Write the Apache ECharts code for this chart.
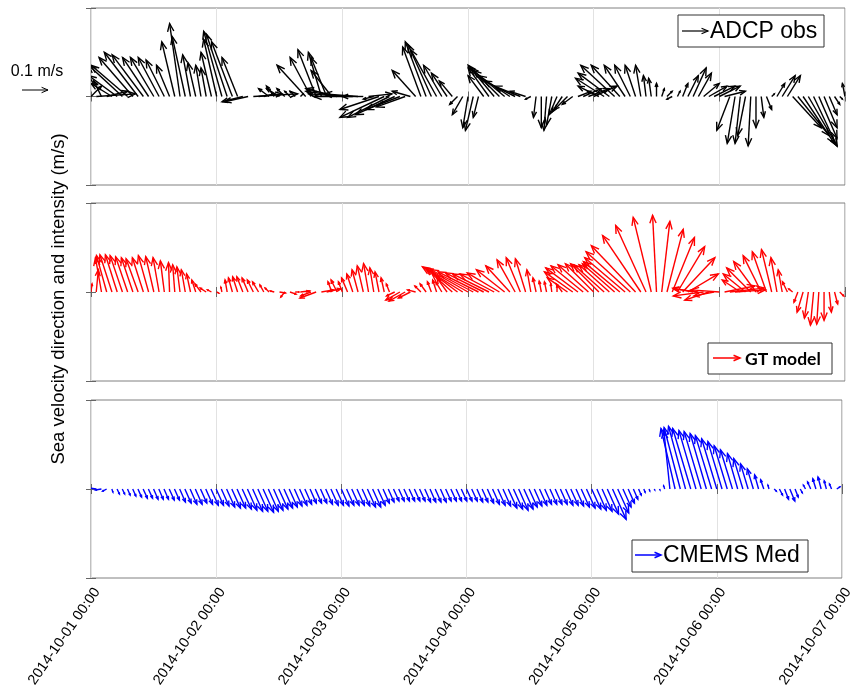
<!DOCTYPE html>
<html><head><meta charset="utf-8">
<script src="https://cdn.jsdelivr.net/npm/echarts@6.0.0/dist/echarts.min.js"></script>
<style>html,body{margin:0;padding:0;background:#fff}#c{width:856px;height:693px}</style>
</head><body><div id="c"></div>
<script>
// Hourly samples starting 2014-10-01 00:00 (index = hours since start)
const tickLabels = ['2014-10-01 00:00','2014-10-02 00:00','2014-10-03 00:00','2014-10-04 00:00','2014-10-05 00:00','2014-10-06 00:00','2014-10-07 00:00'];
const hoursPerTick = 24;
const totalHours = 144;

// Velocity components in cm/s (u: eastward, v: northward)
const adcpU = [4,15,-3,8,-8,-11,-13,-14,-13,-13,
 -12,-10,-9,-8,-7,-5,-5,-4,-5,-3,
 -3,-2,-2,-4,-5,-7,-8,-8,-6,-8,
 -9,17,9,4,-4,-3,-5,-3,-2,-2,
 1,-11,-8,-7,-5,-6,-8,-12,-14,-15,
 -15,-13,-8,9,-4,-15,-17,-16,-15,-13,
 -11,-7,-9,-7,-8,-9,-10,-7,-6,-5,
 -3,-4,-2,-3,-2,-6,-8,-10,-11,-12,
 -12,-12,-10,-6,-2,-1,0,-1,-2,-3,
 -4,-5,-4,5,7,8,9,-8,-11,-12,
 -13,-11,-8,-6,-4,-2,-1,-1,0,1,
 2,-2,1,2,4,5,5,6,7,8,
 8,8,-5,-3,-2,-3,-1,0,1,2,
 1,3,5,5,11,12,12,11,9,7,
 5,3,2,1,-1];
const adcpV = [4,1,6,2,5,8,12,12,15,17,
 16,15,15,15,14,12,21,28,23,16,
 13,12,11,17,22,25,24,21,15,-2,
 -2,1,1,1,3,4,3,3,2,2,
 1,12,15,18,17,15,10,3,2,1,
 0,1,0,1,-1,-5,-8,-8,-7,-5,
 -4,2,10,19,21,20,18,12,9,6,
 -3,-7,-12,-13,-8,8,11,12,11,10,
 8,6,4,2,-1,-8,-12,-13,-11,-7,
 -6,-5,-3,2,3,3,4,4,7,9,
 12,12,12,12,12,12,8,7,5,3,
 2,-1,2,5,8,11,9,5,4,4,
 4,2,-13,-18,-18,-15,-19,-12,-8,-5,
 1,5,8,8,-12,-15,-18,-19,-19,-16,
 -12,-7,-3,-1,5];

const gtU = [0.4,0.8,-2.3,-3.9,-4.6,-4.5,-4.7,-4.6,-4.4,-4.6,
 -4.2,-3.9,-3.1,-2.3,-1.5,-0.4,-0.8,-1.2,-1.5,-1.5,
 -1.5,-2.3,-2.3,-1.5,0.8,-0.4,-0.8,-1.5,-1.9,-2.3,
 -2.3,-2.3,-2.3,-1.5,-1.5,-1.5,2.3,-1.5,2.3,1.5,
 3.1,1.5,-3.9,-6.2,4.6,5.4,-1.5,-2.3,-1.5,-2.3,
 -2.3,-2.3,-2.3,-1.9,-1.5,-1.5,-1.2,-1.2,-3.1,-5.4,
 -6.2,-4.6,-3.1,-2.3,-2.3,-1.5,-1.5,-2.3,-3.9,-7.7,
 -12.3,-15.4,-16.2,-16.2,-15.4,-14.6,-13.9,-13.1,-12.3,-10.8,
 -9.2,-6.9,-5.4,-3.9,-1.5,-1.2,-0.8,-0.8,-0.4,0,
 -2.3,-7.7,-10.8,-12.3,-12.3,-11.6,-10.8,-10.8,-11.6,-11.6,
 -12.3,-13.9,-15.4,-16.9,-16.9,-14.6,-11.6,-6.9,-1.5,3.1,
 6.2,8.5,10.4,12.3,11.6,-7.7,-9.6,-11.6,-9.2,-7.7,
 -10.8,11.6,13.1,11.6,-6.9,-8.5,-9.2,-8.5,-6.9,-5.4,
 -3.9,-2.3,-1.5,-1.9,-1.5,-1.5,-2.3,-1.5,-1.2,-0.8,
 0,0.8,1.2,1.5,1.5];
const gtV = [3.1,8.5,13.1,13.9,14.2,14.2,13.9,13.5,13.1,12.7,
 13.1,13.9,13.5,13.1,11.9,11.2,10.4,9.6,8.5,6.9,
 4.6,3.1,1.5,0.8,-0.4,1.9,4.6,5.4,5.8,5.8,
 5.4,4.6,3.9,2.7,1.5,0.4,-0.4,-1.9,-0.8,0,
 0.4,0.4,-1.5,-2.3,0.8,1.2,3.9,4.6,3.9,5.4,
 6.9,8.5,10.0,10.8,9.2,7.7,5.4,3.1,-1.5,-3.1,
 -3.5,-2.3,0.8,2.3,3.1,3.9,4.6,3.9,5.4,6.9,
 9.2,9.6,9.2,8.5,7.7,7.3,6.9,6.9,7.3,8.5,
 10.0,12.3,13.1,12.7,8.5,5.4,4.2,3.9,3.1,2.3,
 3.1,5.4,7.7,9.2,10.0,10.4,10.8,10.8,10.4,10.4,
 10.8,11.6,13.1,15.4,17.7,21.6,25.4,28.5,29.3,27.0,
 23.9,20.8,17.3,13.1,6.9,1.5,1.2,-1.5,-3.1,-1.5,
 0.8,2.3,1.5,0.8,4.6,6.9,9.2,11.6,13.9,15.4,
 16.2,13.1,8.5,3.9,1.2,-3.9,-7.7,-10.0,-12.7,-12.3,
 -10.8,-7.7,-4.6,-1.5,2.3];

const cmemsU = [-2.3,-3.1,-2.3,-1.5,0.4,0.9,0.9,1.0,1.2,1.4,
 1.6,1.6,1.7,1.7,1.7,1.9,1.9,2.2,2.4,2.6,
 2.6,2.4,2.6,2.8,2.8,2.9,3.1,3.3,3.3,3.5,
 3.6,3.8,3.8,4.0,3.8,3.6,3.5,3.3,3.1,2.9,
 2.8,2.6,2.4,2.4,2.4,2.6,2.8,2.8,2.9,2.8,
 2.8,2.8,2.9,3.1,3.1,2.8,2.4,2.2,2.1,2.1,
 2.1,2.1,2.1,2.1,2.2,2.2,2.2,2.2,2.1,2.1,
 2.1,2.1,2.1,2.1,2.2,2.2,2.4,2.6,2.8,2.9,
 3.3,3.5,3.6,3.5,3.1,2.9,2.8,2.6,2.6,2.6,
 2.6,2.8,2.8,2.9,3.1,3.3,3.5,3.6,3.8,4.3,
 5.2,4.2,3.1,2.4,1.7,1.0,0.5,0.3,0.2,0.2,
 -0.4,-2.3,-5.4,-6.2,-6.5,-6.9,-6.5,-6.5,-6.2,-6.2,
 -5.8,-5.4,-5.0,-4.6,-3.9,-3.5,-2.9,-2.3,-1.5,-1.2,
 -0.4,0.8,1.2,1.5,1.9,1.2,0.8,-0.8,-1.2,-1.2,
 -1.2,-0.8,-0.8,1.2,1.5];
const cmemsV = [0.8,0.4,-0.4,-0.8,-1.2,-1.9,-1.9,-2.3,-2.7,-3.1,
 -3.5,-3.5,-3.9,-3.9,-3.9,-4.2,-4.2,-5.0,-5.4,-5.8,
 -5.8,-5.4,-5.8,-6.2,-6.2,-6.5,-6.9,-7.3,-7.3,-7.7,
 -8.1,-8.5,-8.5,-8.9,-8.5,-8.1,-7.7,-7.3,-6.9,-6.5,
 -6.2,-5.8,-5.4,-5.4,-5.4,-5.8,-6.2,-6.2,-6.5,-6.2,
 -6.2,-6.2,-6.5,-6.9,-6.9,-6.2,-5.4,-5.0,-4.6,-4.6,
 -4.6,-4.6,-4.6,-4.6,-5.0,-5.0,-5.0,-5.0,-4.6,-4.6,
 -4.6,-4.6,-4.6,-4.6,-5.0,-5.0,-5.4,-5.8,-6.2,-6.5,
 -7.3,-7.7,-8.1,-7.7,-6.9,-6.5,-6.2,-5.8,-5.8,-5.8,
 -5.8,-6.2,-6.2,-6.5,-6.9,-7.3,-7.7,-8.1,-8.5,-9.6,
 -11.6,-9.2,-6.9,-5.4,-3.9,-2.3,-1.2,-0.8,-0.4,-0.4,
 1.2,22.3,23.1,23.5,23.9,23.1,22.3,21.9,21.2,20.4,
 19.2,18.1,16.5,15.0,13.5,11.6,9.6,7.7,5.4,3.5,
 1.5,-0.8,-2.3,-3.9,-4.6,-3.1,-1.5,1.5,2.7,3.9,
 4.6,3.1,1.9,0.8,0];

const seriesNames = ['ADCP obs','GT model','CMEMS Med'];
const seriesColors = ['#000000','#ff0000','#0000ff'];
const seriesU = [adcpU, gtU, cmemsU];
const seriesV = [adcpV, gtV, cmemsV];
const yLimit = 0.34;     // m/s, half-range of each panel
const refSpeed = 0.1;    // m/s, reference arrow
const yTitle = 'Sea velocity direction and intensity (m/s)';

function toData(U, V) { return U.map((u, i) => [i, u / 100, V[i] / 100]); }

function arrowRender(color) {
  return function (params, api) {
    const t = api.value(0), u = api.value(1), v = api.value(2);
    const p0 = api.coord([t, 0]);
    const k = api.size([0, 1])[1];
    const dx = u * k, dy = -v * k;
    const len = Math.hypot(dx, dy);
    const tip = [p0[0] + dx, p0[1] + dy];
    const children = [{type:'polyline', shape:{points:[p0, tip]}, style:{stroke:color, lineWidth:1.4, fill:null}}];
    if (len > 0.5) {
      const h = Math.min(0.3 * len, 8.5);
      const ang = Math.atan2(dy, dx), a = 0.38;
      const b1 = [tip[0] - h * Math.cos(ang - a), tip[1] - h * Math.sin(ang - a)];
      const b2 = [tip[0] - h * Math.cos(ang + a), tip[1] - h * Math.sin(ang + a)];
      children.push({type:'polyline', shape:{points:[b1, tip, b2]}, style:{stroke:color, lineWidth:1.4, fill:null}});
    }
    return {type:'group', children};
  };
}

const gridTops = [8, 203, 400];
const gridHeights = [177, 178, 178];
const grids = gridTops.map((t, i) => ({left:91, width:754, top:t, height:gridHeights[i], show:true, borderColor:'#808080', borderWidth:1, backgroundColor:'#fff'}));

const xAxes = [];
[0,1,2].forEach(i => xAxes.push({
  type:'value', gridIndex:i, min:0, max:totalHours, interval:hoursPerTick, position:'bottom',
  axisLine:{show:false}, axisTick:{show:true, inside:true, length:5, lineStyle:{color:'#666'}},
  splitLine:{show:true, lineStyle:{color:'#e2e2e2', width:1}},
  axisLabel:{show: i === 2, rotate:55, margin:7, fontSize:14.5, color:'#000', fontFamily:'Liberation Sans, Arial', verticalAlign:'top',
    formatter: v => tickLabels[Math.round(v / hoursPerTick)] || ''}
}));
[0,1,2].forEach(i => xAxes.push({
  type:'value', gridIndex:i, min:0, max:totalHours, interval:hoursPerTick, position:'top',
  axisLine:{show:false}, axisTick:{show:true, inside:true, length:5, lineStyle:{color:'#666'}},
  splitLine:{show:false}, axisLabel:{show:false}
}));
const yAxes = [];
[0,1,2].forEach(i => yAxes.push({
  type:'value', gridIndex:i, min:-yLimit, max:yLimit, interval:yLimit, position:'left',
  axisLine:{show:false}, axisTick:{show:true, inside:true, length:5, lineStyle:{color:'#666'}},
  splitLine:{show:false}, axisLabel:{show:false}
}));
[0,1,2].forEach(i => yAxes.push({
  type:'value', gridIndex:i, min:-yLimit, max:yLimit, interval:yLimit, position:'right',
  axisLine:{show:false}, axisTick:{show:true, inside:true, length:5, lineStyle:{color:'#666'}},
  splitLine:{show:false}, axisLabel:{show:false}
}));

const series = seriesNames.map((name, i) => ({
  type:'custom', name, xAxisIndex:i, yAxisIndex:i, clip:true,
  data: toData(seriesU[i], seriesV[i]),
  encode:{x:0, y:1}, renderItem: arrowRender(seriesColors[i]), silent:true, animation:false
}));

const chart = echarts.init(document.getElementById('c'), null, {renderer:'canvas'});
chart.setOption({animation:false, backgroundColor:'#fff', grid:grids, xAxis:xAxes, yAxis:yAxes, series});

function legendArrow(x, y, len, color, w) {
  const h = 7, a = 0.4;
  return [
    {type:'polyline', shape:{points:[[x, y],[x + len, y]]}, style:{stroke:color, lineWidth:w, fill:null}, z:100},
    {type:'polyline', shape:{points:[[x + len - h*Math.cos(a), y - h*Math.sin(a)],[x + len, y],[x + len - h*Math.cos(a), y + h*Math.sin(a)]]}, style:{stroke:color, lineWidth:w, fill:null}, z:100}
  ];
}

const refLen = chart.convertToPixel({yAxisIndex:0}, 0) - chart.convertToPixel({yAxisIndex:0}, refSpeed);
const graphics = [
  {type:'text', x:59, y:299, rotation:Math.PI/2, style:{text:yTitle, font:'18.5px "Liberation Sans", Arial', fill:'#000', align:'center', verticalAlign:'middle'}, z:100},
  {type:'text', x:37, y:72, style:{text:refSpeed + ' m/s', font:'16px "Liberation Sans", Arial', fill:'#000', align:'center', verticalAlign:'middle'}, z:100},
  ...legendArrow(22, 90, refLen, '#000', 1),
  {type:'rect', shape:{x:678, y:15, width:146, height:32}, style:{fill:'#fff', stroke:'#333', lineWidth:1}, z:99},
  ...legendArrow(682, 31, 26, seriesColors[0], 1.2),
  {type:'text', x:710, y:32, style:{text:seriesNames[0], font:'23px "Liberation Sans", Arial', fill:'#000', align:'left', verticalAlign:'middle'}, z:100},
  {type:'rect', shape:{x:708, y:343, width:124, height:31}, style:{fill:'#fff', stroke:'#333', lineWidth:1}, z:99},
  ...legendArrow(713, 358, 27, seriesColors[1], 1.5),
  {type:'text', x:745, y:359, style:{text:seriesNames[1], font:'bold 17.5px Lato, "Open Sans", sans-serif', fill:'#000', align:'left', verticalAlign:'middle'}, z:100},
  {type:'rect', shape:{x:632, y:540, width:176, height:32}, style:{fill:'#fff', stroke:'#333', lineWidth:1}, z:99},
  ...legendArrow(635, 555, 26, seriesColors[2], 1.5),
  {type:'text', x:663, y:556, style:{text:seriesNames[2], font:'23px "Liberation Sans", Arial', fill:'#000', align:'left', verticalAlign:'middle'}, z:100}
];
chart.setOption({graphic: graphics});
</script></body></html>
